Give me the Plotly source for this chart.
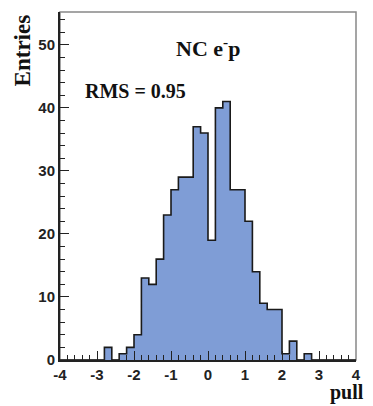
import plotly.graph_objects as go

# Histogram of pulls: 40 bins of width 0.2 from -4 to 4
bin_edges = [round(-4 + 0.2 * i, 1) for i in range(41)]
counts = [0, 0, 0, 0, 0,
          0, 2, 0, 1, 2,
          4, 13, 12, 16, 23,
          27, 29, 29, 37, 36,
          19, 40, 41, 27, 27,
          22, 14, 9, 8, 8,
          1, 3, 0, 1, 0,
          0, 0, 0, 0, 0]
x_tick_vals = [-4, -3, -2, -1, 0, 1, 2, 3, 4]
x_tick_text = ["-4", "-3", "-2", "-1", "0", "1", "2", "3", "4"]
y_tick_vals = [0, 10, 20, 30, 40, 50]
y_tick_text = ["0", "10", "20", "30", "40", "50"]
title_text = "NC e<sup>-</sup>p"
rms_text = "RMS = 0.95"
x_title = "pull"
y_title = "Entries"

centers = [(bin_edges[i] + bin_edges[i + 1]) / 2 for i in range(len(counts))]

fig = go.Figure()
fig.add_trace(go.Bar(x=centers, y=counts, width=0.2,
                     marker=dict(color="#7f9dd6", line=dict(width=0)),
                     hoverinfo="skip"))
fig.add_trace(go.Scatter(x=bin_edges, y=counts + [counts[-1]], mode="lines",
                         line=dict(shape="hv", color="#1a1a1a", width=1.6),
                         hoverinfo="skip"))

serif = "Liberation Serif"
sans = "Liberation Sans"

# page body has an 8px margin, so the figure is placed at (8, 8)
fig.update_layout(
    width=365, height=398,
    margin=dict(l=52, r=17, t=4, b=46),
    paper_bgcolor="white", plot_bgcolor="white",
    showlegend=False, bargap=0,
    xaxis=dict(range=[-4, 4], tickvals=x_tick_vals, ticktext=x_tick_text,
               ticks="inside", ticklen=9, tickwidth=1.3, tickcolor="#222",
               minor=dict(dtick=0.2, ticks="inside", ticklen=5, tickwidth=1.1, tickcolor="#222"),
               showgrid=False, zeroline=False,
               showline=True, linecolor="#222", linewidth=2,
               tickfont=dict(family=sans, size=15, color="#222", weight="bold")),
    yaxis=dict(range=[0, 55.2], tickvals=y_tick_vals, ticktext=y_tick_text,
               ticks="inside", ticklen=9, tickwidth=1.3, tickcolor="#222",
               minor=dict(dtick=2, ticks="inside", ticklen=5, tickwidth=1.1, tickcolor="#222"),
               showgrid=False, zeroline=False,
               showline=True, linecolor="#222", linewidth=2,
               tickfont=dict(family=sans, size=15, color="#222", weight="bold")),
    shapes=[dict(type="rect", xref="paper", yref="paper", x0=0, x1=1, y0=0, y1=1,
                 line=dict(color="#888", width=1.5), layer="below")],
    annotations=[
        dict(x=0, y=49.7, xref="x", yref="y", text=title_text, showarrow=False,
             xanchor="center", yanchor="middle",
             font=dict(family=serif, size=22, color="#111", weight="bold")),
        dict(x=-1.97, y=42.7, xref="x", yref="y", text=rms_text, showarrow=False,
             xanchor="center", yanchor="middle",
             font=dict(family=serif, size=20, color="#111", weight="bold")),
        dict(x=-0.128, y=0.89, xref="paper", yref="paper", text=y_title, showarrow=False,
             textangle=-90, xanchor="center", yanchor="middle",
             font=dict(family=serif, size=23, color="#111", weight="bold")),
        dict(x=1.035, y=-0.093, xref="paper", yref="paper", text=x_title, showarrow=False,
             xanchor="right", yanchor="middle",
             font=dict(family=serif, size=20, color="#111", weight="bold")),
    ],
)

fig.write_html("out.html")
